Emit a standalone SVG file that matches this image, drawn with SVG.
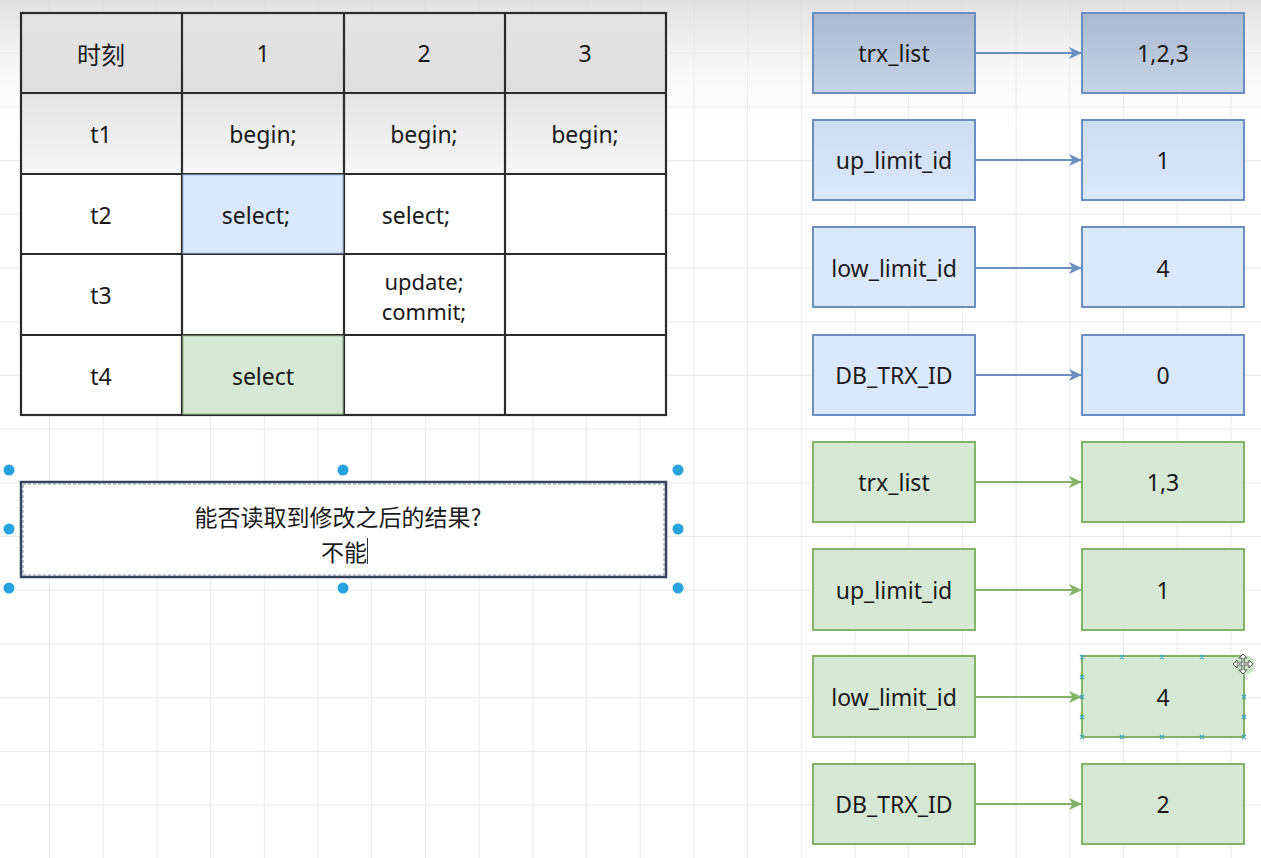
<svg xmlns="http://www.w3.org/2000/svg" width="1261" height="858" viewBox="0 0 1261 858">
<defs>
<pattern id="grid" patternUnits="userSpaceOnUse" x="-4.7" y="-1" width="53.7" height="53.7">
<path d="M0,0 H53.7 M0,0 V53.7" stroke="#e2e2e2" stroke-width="1.5" fill="none"/>
</pattern>
<linearGradient id="vig" x1="0" y1="0" x2="0" y2="1">
<stop offset="0" stop-color="#d8d8d8" stop-opacity="0.8"/>
<stop offset="1" stop-color="#ffffff" stop-opacity="0"/>
</linearGradient>
<linearGradient id="hdr" x1="0" y1="0" x2="0" y2="1">
<stop offset="0" stop-color="#e4e4e4"/>
<stop offset="1" stop-color="#dedede"/>
</linearGradient>
<linearGradient id="t1g" x1="0" y1="0" x2="0" y2="1">
<stop offset="0" stop-color="#e4e4e4"/>
<stop offset="1" stop-color="#f7f7f7"/>
</linearGradient>
<linearGradient id="blueTop" x1="0" y1="0" x2="0" y2="1">
<stop offset="0" stop-color="#aab9cf"/>
<stop offset="1" stop-color="#c6d4e6"/>
</linearGradient>
<linearGradient id="blue2" x1="0" y1="0" x2="0" y2="1">
<stop offset="0" stop-color="#cedcf0"/>
<stop offset="1" stop-color="#dae8fc"/>
</linearGradient>
<marker id="arrB" markerUnits="userSpaceOnUse" markerWidth="14" markerHeight="14" refX="13" refY="7" orient="auto">
<path d="M0,1 L13,7 L0,13 L3.5,7 z" fill="#6c8ebf"/>
</marker>
<marker id="arrG" markerUnits="userSpaceOnUse" markerWidth="14" markerHeight="14" refX="13" refY="7" orient="auto">
<path d="M0,1 L13,7 L0,13 L3.5,7 z" fill="#82b366"/>
</marker>
</defs>
<style>
text{font-family:"Noto Sans","Noto Sans CJK SC",sans-serif;fill:#1a1a1a;text-anchor:middle;dominant-baseline:central;}
.t{font-size:23px;}
.t2{font-size:22px;}
.cjk{font-size:24px;font-family:"Noto Sans CJK SC","Noto Sans",sans-serif;}
.cjk2{font-size:23px;font-family:"Noto Sans CJK SC","Noto Sans",sans-serif;}
.cell{stroke:#2b2b2b;stroke-width:2.2;}
.bl{stroke:#6c8ebf;stroke-width:2;}
.gr{fill:#d5e8d4;stroke:#82b366;stroke-width:2;}
.bb{fill:#dae8fc;}
.cb{stroke:#6c8ebf;stroke-width:2;fill:none;marker-end:url(#arrB);}
.cg{stroke:#82b366;stroke-width:2;fill:none;marker-end:url(#arrG);}
.h{fill:#29a3e0;}
.x{stroke:#3aa6c9;stroke-width:1.2;}
</style>
<rect width="1261" height="858" fill="#ffffff"/>
<rect width="1261" height="858" fill="url(#grid)"/>
<rect width="1261" height="140" fill="url(#vig)"/>

<g id="table">
<rect x="21" y="13" width="645" height="80" fill="url(#hdr)"/>
<rect x="21" y="93" width="645" height="81" fill="url(#t1g)"/>
<rect x="21" y="174" width="645" height="241" fill="#ffffff"/>
<rect x="182" y="174" width="162" height="80" fill="#dae8fc"/>
<rect x="182" y="335" width="162" height="80" fill="#d5e8d4"/>
<g class="cell" fill="none">
<rect x="21" y="13" width="645" height="402"/>
<path d="M182,13 V415 M344,13 V415 M505,13 V415 M21,93 H666 M21,174 H666 M21,254 H666 M21,335 H666"/>
</g>
<rect x="183" y="175" width="160" height="78" fill="none" stroke="#a8c4ea" stroke-width="1"/>
<rect x="183" y="336" width="160" height="78" fill="none" stroke="#9cc494" stroke-width="1"/>
<text class="cjk" x="101" y="53">时刻</text>
<text class="t" x="263" y="53">1</text>
<text class="t" x="424" y="53">2</text>
<text class="t" x="585" y="53">3</text>
<text class="t" x="101" y="134">t1</text>
<text class="t" x="263" y="134">begin;</text>
<text class="t" x="424" y="134">begin;</text>
<text class="t" x="585" y="134">begin;</text>
<text class="t" x="101" y="215">t2</text>
<text class="t" x="256" y="215">select;</text>
<text class="t" x="416" y="215">select;</text>
<text class="t" x="101" y="295">t3</text>
<text class="t2" x="424" y="281">update;</text>
<text class="t2" x="424" y="311">commit;</text>
<text class="t" x="101" y="376">t4</text>
<text class="t" x="263" y="376">select</text>
</g>

<g id="question">
<rect x="21" y="482" width="645" height="95" fill="#ffffff" stroke="#34445e" stroke-width="2.5"/>
<rect x="23" y="484" width="641" height="91" fill="none" stroke="#7f8ea6" stroke-width="1" stroke-dasharray="3 2"/>
<text class="cjk2" x="338" y="516">能否读取到修改之后的结果?</text>
<text class="cjk2" x="344" y="551">不能</text>
<line x1="367.5" y1="538" x2="367.5" y2="564" stroke="#333" stroke-width="1"/>
<circle class="h" cx="9" cy="470" r="5.5"/>
<circle class="h" cx="343" cy="470" r="5.5"/>
<circle class="h" cx="678" cy="470" r="5.5"/>
<circle class="h" cx="9" cy="529" r="5.5"/>
<circle class="h" cx="678" cy="529" r="5.5"/>
<circle class="h" cx="9" cy="588" r="5.5"/>
<circle class="h" cx="343" cy="588" r="5.5"/>
<circle class="h" cx="678" cy="588" r="5.5"/>
</g>

<g id="connectors">
<path class="cb" d="M975,53 H1082"/>
<path class="cb" d="M975,160 H1082"/>
<path class="cb" d="M975,268 H1082"/>
<path class="cb" d="M975,375 H1082"/>
<path class="cg" d="M975,482 H1082"/>
<path class="cg" d="M975,590 H1082"/>
<path class="cg" d="M975,697 H1082"/>
<path class="cg" d="M975,804 H1082"/>
</g>

<g id="b-trx-key"><rect x="813" y="13" width="162" height="80" fill="url(#blueTop)" class="bl"/><text class="t" x="894" y="53">trx_list</text></g>
<g id="b-trx-val"><rect x="1082" y="13" width="162" height="80" fill="url(#blueTop)" class="bl"/><text class="t" x="1163" y="53">1,2,3</text></g>
<g id="b-up-key"><rect x="813" y="120" width="162" height="80" fill="url(#blue2)" class="bl"/><text class="t" x="894" y="160">up_limit_id</text></g>
<g id="b-up-val"><rect x="1082" y="120" width="162" height="80" fill="url(#blue2)" class="bl"/><text class="t" x="1163" y="160">1</text></g>
<g id="b-low-key"><rect x="813" y="227" width="162" height="80" class="bl bb"/><text class="t" x="894" y="268">low_limit_id</text></g>
<g id="b-low-val"><rect x="1082" y="227" width="162" height="80" class="bl bb"/><text class="t" x="1163" y="268">4</text></g>
<g id="b-db-key"><rect x="813" y="335" width="162" height="80" class="bl bb"/><text class="t" x="894" y="375">DB_TRX_ID</text></g>
<g id="b-db-val"><rect x="1082" y="335" width="162" height="80" class="bl bb"/><text class="t" x="1163" y="375">0</text></g>

<g id="g-trx-key"><rect x="813" y="442" width="162" height="80" class="gr"/><text class="t" x="894" y="482">trx_list</text></g>
<g id="g-trx-val"><rect x="1082" y="442" width="162" height="80" class="gr"/><text class="t" x="1163" y="482">1,3</text></g>
<g id="g-up-key"><rect x="813" y="549" width="162" height="81" class="gr"/><text class="t" x="894" y="590">up_limit_id</text></g>
<g id="g-up-val"><rect x="1082" y="549" width="162" height="81" class="gr"/><text class="t" x="1163" y="590">1</text></g>
<g id="g-low-key"><rect x="813" y="656" width="162" height="81" class="gr"/><text class="t" x="894" y="697">low_limit_id</text></g>
<g id="g-low-val"><rect x="1082" y="656" width="162" height="81" class="gr"/><text class="t" x="1163" y="697">4</text>
<g class="x">
<path d="M1080,655 l4,4 m0,-4 l-4,4 M1120,655 l4,4 m0,-4 l-4,4 M1160,655 l4,4 m0,-4 l-4,4 M1200,655 l4,4 m0,-4 l-4,4"/>
<path d="M1080,735 l4,4 m0,-4 l-4,4 M1120,735 l4,4 m0,-4 l-4,4 M1160,735 l4,4 m0,-4 l-4,4 M1200,735 l4,4 m0,-4 l-4,4 M1242,735 l4,4 m0,-4 l-4,4"/>
<path d="M1080,675 l4,4 m0,-4 l-4,4 M1080,695 l4,4 m0,-4 l-4,4 M1080,715 l4,4 m0,-4 l-4,4"/>
<path d="M1242,695 l4,4 m0,-4 l-4,4 M1242,715 l4,4 m0,-4 l-4,4"/>
</g>
<circle cx="1245" cy="665" r="10" fill="#b8dcb4" opacity="0.7"/>
<path d="M1243,654 l-4,4 h3 v5 h-5 v-3 l-4,4 4,4 v-3 h5 v5 h-3 l4,4 4,-4 h-3 v-5 h5 v3 l4,-4 -4,-4 v3 h-5 v-5 h3 z" fill="#ffffff" stroke="#555" stroke-width="1"/>
</g>
<g id="g-db-key"><rect x="813" y="764" width="162" height="80" class="gr"/><text class="t" x="894" y="804">DB_TRX_ID</text></g>
<g id="g-db-val"><rect x="1082" y="764" width="162" height="80" class="gr"/><text class="t" x="1163" y="804">2</text></g>
</svg>
